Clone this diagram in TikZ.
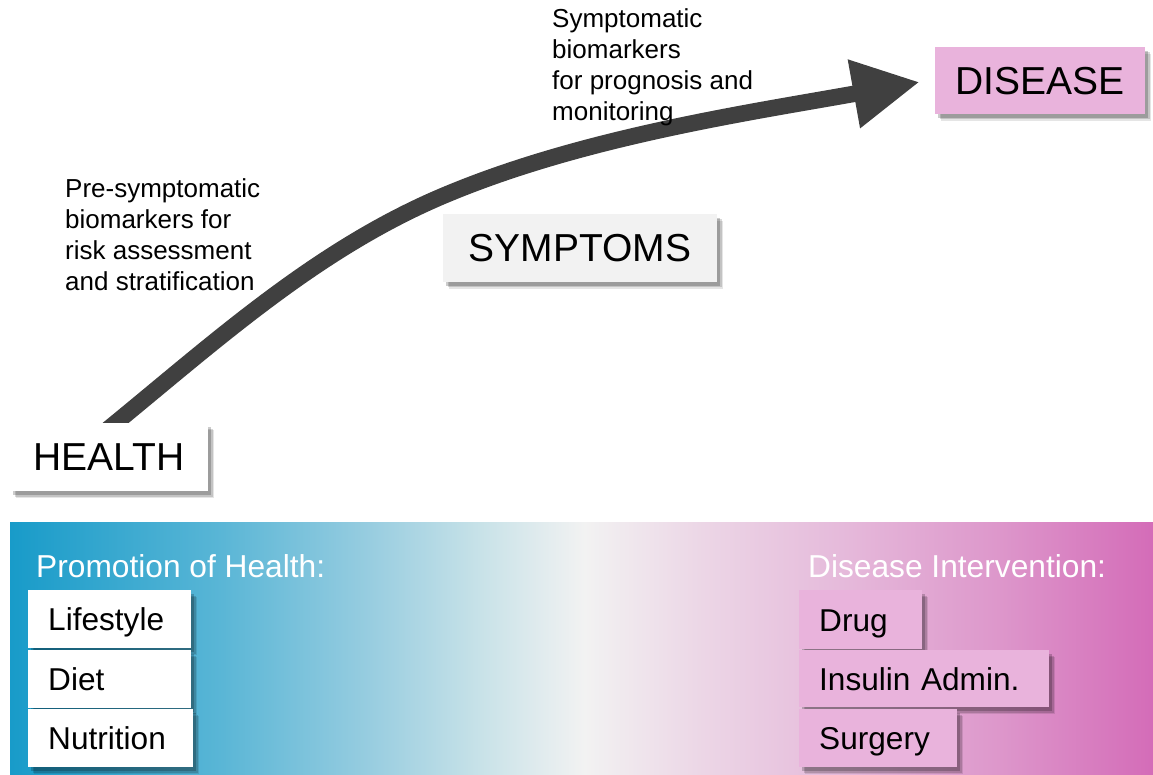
\documentclass[tikz,border=0pt]{standalone}
\usepackage{fontspec}
\setmainfont{Liberation Sans}
\usetikzlibrary{shadows,arrows.meta,calc}
\pgfdeclarelayer{background}
\pgfsetlayers{background,main}
\definecolor{arrowgray}{HTML}{404040}
\definecolor{pinkbox}{HTML}{E9B3DC}
\definecolor{symgray}{HTML}{F2F2F2}
\definecolor{ga}{HTML}{189BC9}
\definecolor{gb}{HTML}{5AB6D6}
\definecolor{gc}{HTML}{98CDE0}
\definecolor{gd}{HTML}{C8E2E8}
\definecolor{ge}{HTML}{F2F2F2}
\definecolor{gf}{HTML}{ECD6E6}
\definecolor{gg}{HTML}{E5B8DA}
\definecolor{gh}{HTML}{DD97CB}
\definecolor{gi}{HTML}{D46CB8}
\begin{document}
\begin{tikzpicture}[x=1pt,y=-1pt,
  shade/.style={
    drop shadow={shadow xshift=6pt,shadow yshift=-7pt,opacity=0.10,fill=black},
    drop shadow={shadow xshift=4.5pt,shadow yshift=-5.5pt,opacity=0.15,fill=black},
    drop shadow={shadow xshift=3pt,shadow yshift=-4pt,opacity=0.2,fill=black}},
  bigbox/.style={shade,inner sep=0pt,text height=27.9pt,text depth=0pt,
    minimum height=68pt,font=\fontsize{39}{47}\selectfont},
  itembox/.style={shade,anchor=north west,inner xsep=20pt,inner ysep=0pt,
    text height=22.7pt,text depth=0pt,minimum height=58pt,align=left,
    font=\fontsize{31.6}{38}\selectfont},
  lbl/.style={anchor=north west,inner sep=0pt,align=left,
    font=\fontsize{26}{31}\selectfont},
  headtxt/.style={anchor=base west,inner sep=0pt,text=white,
    font=\fontsize{31.7}{38}\selectfont}]
\useasboundingbox (0,0) rectangle (1153,775);

% gradient band
\shade[left color=ga,right color=gb] (10,522) rectangle (222.5,775);
\shade[left color=gb,right color=gc] (222,522) rectangle (370.5,775);
\shade[left color=gc,right color=gd] (370,522) rectangle (480.5,775);
\shade[left color=gd,right color=ge] (480,522) rectangle (584.5,775);
\shade[left color=ge,right color=gf] (584,522) rectangle (702.5,775);
\shade[left color=gf,right color=gg] (702,522) rectangle (850.5,775);
\shade[left color=gg,right color=gh] (850,522) rectangle (998.5,775);
\shade[left color=gh,right color=gi] (998,522) rectangle (1153,775);

% main stage boxes
\node[bigbox,fill=white,minimum width=198pt] (health) at (109,457) {HEALTH};
\node[bigbox,fill=symgray,minimum width=274pt] (symptoms) at (580,248) {SYMPTOMS};
\node[bigbox,fill=pinkbox,minimum width=210pt,minimum height=67pt] (disease) at (1040,80.5) {DISEASE};

% labels
\node[lbl] (pre) at (65,178.5) {Pre-symptomatic\\biomarkers for\\risk assessment\\and stratification};
\node[lbl] (sym) at (552,8.5) {Symptomatic\\biomarkers\\for prognosis and\\monitoring};

% progression arrow
\begin{pgfonlayer}{background}
\draw[arrowgray,line width=16.5pt,-{Triangle[length=67pt,width=65pt]}]
  ($(health.north)+(-3,8)$) .. controls (215,342) and (318,247) .. (450,193)
  .. controls (588,136) and (753,112) .. ($(disease.west)+(-15,1.5)$);
\end{pgfonlayer}

% bottom panel
\node[headtxt] (promo) at (36,577) {Promotion of Health:};
\node[headtxt] (interv) at (808,577) {Disease Intervention:};

\node[itembox,fill=white,text width=123pt] (life) at (28,590) {Lifestyle};
\node[itembox,fill=white,text width=123pt] (diet) at (28,650) {Diet};
\node[itembox,fill=white,text width=125pt] (nutr) at (28,709) {Nutrition};

\node[itembox,fill=pinkbox,text width=83pt,minimum height=59pt] (drug) at (799,590) {Drug};
\node[itembox,fill=pinkbox,text width=210pt,minimum height=57pt] (insulin) at (799,650) {Insulin Admin.};
\node[itembox,fill=pinkbox,text width=118pt] (surgery) at (799,709) {Surgery};
\end{tikzpicture}
\end{document}
